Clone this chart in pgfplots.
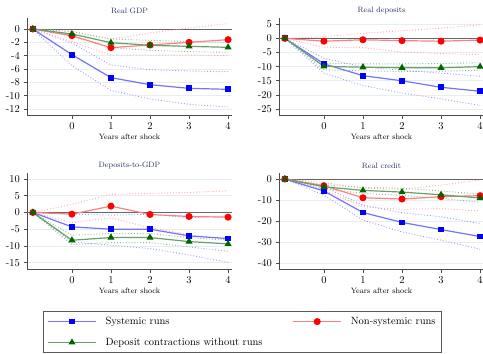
\documentclass[border=0pt]{standalone}
\usepackage{pgfplots}
\pgfplotsset{compat=1.18}
\usepackage{pgfplotstable}

\definecolor{sysblue}{RGB}{0,0,255}
\definecolor{nsred}{RGB}{255,0,0}
\definecolor{dcgreen}{RGB}{0,100,0}
\definecolor{titlecol}{RGB}{40,50,100}
\definecolor{gridc}{RGB}{230,238,241}

% x  b  bu  bl  r  ru  rl  g  gu  gl
\pgfplotstableread{
x  b      bu     bl     r     ru     rl     g      gu    gl
-1 0      0      0      0     0      0      0      0     0
0  -3.85  -2.1   -5.5   -1.0  -0.35  -1.9   -0.75  -0.4  -1.1
1  -7.3   -5.4   -9.2   -2.8  -1.5   -3.9   -2.05  -1.5  -2.8
2  -8.35  -6.1   -10.5  -2.4  -0.6   -3.9   -2.45  -1.7  -3.2
3  -8.9   -6.3   -11.3  -2.0  0.15   -3.9   -2.6   -1.9  -3.4
4  -9.05  -6.4   -11.7  -1.6  0.8    -4.0   -2.75  -2.0  -3.5
}\gdp
\pgfplotstableread{
x  b      bu     bl     r     ru     rl     g      gu    gl
-1 0      0      0      0     0      0      0      0     0
0  -9.0   -7.0   -12.3  -1.0  0.6    -3.2   -9.9   -8.9  -11.1
1  -13.2  -10.1  -16.7  -0.5  1.8    -3.3   -10.2  -9.0  -11.5
2  -15.0  -11.3  -19.3  -0.8  2.7    -4.8   -10.4  -9.0  -11.7
3  -17.3  -12.3  -21.4  -1.0  3.6    -5.4   -10.4  -8.9  -11.6
4  -18.7  -13.4  -23.7  -0.6  4.8    -5.7   -10.0  -8.6  -11.3
}\deposits
\pgfplotstableread{
x  b      bu     bl     r     ru     rl     g      gu    gl
-1 0      0      0      0     0      0      0      0     0
0  -4.3   -0.5   -8.8   -0.5  2.4    -3.0   -8.3   -6.8  -9.6
1  -5.0   -0.8   -9.8   1.9   5.4    -1.6   -7.5   -6.3  -9.0
2  -5.0   -0.5   -10.8  -0.6  5.7    -4.6   -7.5   -6.3  -9.0
3  -7.0   -1.6   -12.7  -1.2  6.0    -6.6   -8.7   -7.5  -10.3
4  -7.8   -1.0   -14.9  -1.4  6.5    -8.3   -9.4   -8.3  -11.6
}\dtogdp
\pgfplotstableread{
x  b      bu     bl     r     ru     rl     g      gu    gl
-1 0      0      0      0     0      0      0      0     0
0  -5.7   -3.7   -7.6   -3.2  -1.7   -5.2   -3.7   -2.8  -4.6
1  -15.9  -12.4  -19.5  -8.9  -4.4   -13.2  -5.4   -4.0  -6.8
2  -20.6  -16.0  -25.1  -9.5  -4.9   -14.4  -6.2   -4.4  -7.8
3  -24.0  -17.9  -29.0  -8.4  -2.9   -14.0  -7.5   -5.7  -9.2
4  -27.3  -21.1  -33.3  -7.9  -0.5   -15.2  -9.0   -7.1  -11.0
}\credit

\pgfplotsset{
  panel/.style={
    scale only axis, width=205pt,
    xmin=-1.15, xmax=4.1,
    xtick={0,1,2,3,4},
    axis x line*=bottom, axis y line*=left,
    x axis line style={-}, y axis line style={-},
    axis line style={black!70, line width=0.8pt},
    tick align=outside, major tick length=3.5pt,
    tick style={black!70, line width=0.6pt},
    ymajorgrids, grid style={gridc, line width=0.8pt},
    ticklabel style={font=\fontsize{10.5}{12}\selectfont},
    /pgf/number format/assume math mode=true,
    xlabel={Years after shock},
    xlabel style={font=\fontsize{7.7}{9}\selectfont, at={(axis description cs:0.5,0)}, anchor=center, yshift=-22pt},
    title style={font=\fontsize{7.7}{9}\selectfont, color=titlecol, at={(axis description cs:0.5,1)}, anchor=center, yshift=1.5pt},
    clip=false,
  },
  band/.style={forget plot, line width=0.9pt, dash pattern=on 0.9pt off 2pt},
  sysline/.style={color=sysblue!55!white, line width=1.2pt, mark=square*, mark size=2.3pt, mark options={solid, fill=sysblue, draw=sysblue}},
  nsline/.style={color=nsred!50!white, line width=1.2pt, mark=*, mark size=2.9pt, mark options={solid, fill=nsred, draw=nsred}},
  dcline/.style={color=dcgreen!60!white, line width=1.2pt, mark=triangle*, mark size=2.9pt, mark options={solid, fill=dcgreen, draw=dcgreen}},
}

\newcommand\panelplots[1]{%
  \addplot[forget plot, black!60, line width=1pt] coordinates {(-1.15,0) (4.1,0)};
  \addplot[band, sysblue!40!white] table[x=x,y=bu]{#1};
  \addplot[band, sysblue!40!white] table[x=x,y=bl]{#1};
  \addplot[band, nsred!35!white] table[x=x,y=ru]{#1};
  \addplot[band, nsred!35!white] table[x=x,y=rl]{#1};
  \addplot[band, dcgreen!45!white] table[x=x,y=gu]{#1};
  \addplot[band, dcgreen!45!white] table[x=x,y=gl]{#1};
  \addplot[sysline] table[x=x,y=b]{#1};
  \addplot[nsline] table[x=x,y=r]{#1};
  \addplot[dcline] table[x=x,y=g]{#1};
}

\begin{document}
\begin{tikzpicture}[x=1pt,y=1pt]
\path[use as bounding box] (0,0) rectangle (483,-354);

\begin{axis}[panel, at={(27pt,-18pt)}, anchor=north west, height=97pt,
  ymin=-12.9, ymax=1.65, ytick={-12,-10,-8,-6,-4,-2,0}, title={Real GDP}]
\panelplots{\gdp}
\end{axis}

\begin{axis}[panel, at={(279pt,-18pt)}, anchor=north west, height=97pt,
  ymin=-27.1, ymax=7.2, ytick={-25,-20,-15,-10,-5,0,5}, title={Real deposits}]
\panelplots{\deposits}
\end{axis}

\begin{axis}[panel, at={(27pt,-173pt)}, anchor=north west, height=96pt,
  ymin=-16.9, ymax=11.8, ytick={-15,-10,-5,0,5,10}, title={Deposits-to-GDP},
  legend columns=2,
  legend cell align=left,
  legend style={at={(axis description cs:0.078,-0.44)}, anchor=north west,
    draw=black!65, line width=0.8pt, font=\fontsize{10.5}{12}\selectfont,
    inner xsep=4pt, inner ysep=3.5pt, row sep=8pt,
    /tikz/every odd column/.append style={column sep=7pt},
    /tikz/every even column/.append style={column sep=28pt}},
  legend image code/.code={\draw[mark repeat=2,mark phase=2] plot coordinates {(0pt,0pt) (24pt,0pt) (48pt,0pt)};},
  ]
\panelplots{\dtogdp}
\legend{Systemic runs, Non-systemic runs, Deposit contractions without runs}
\end{axis}

\begin{axis}[panel, at={(279pt,-173pt)}, anchor=north west, height=96pt,
  ymin=-42.7, ymax=2.85, ytick={-40,-30,-20,-10,0}, title={Real credit}]
\panelplots{\credit}
\end{axis}
\end{tikzpicture}
\end{document}
